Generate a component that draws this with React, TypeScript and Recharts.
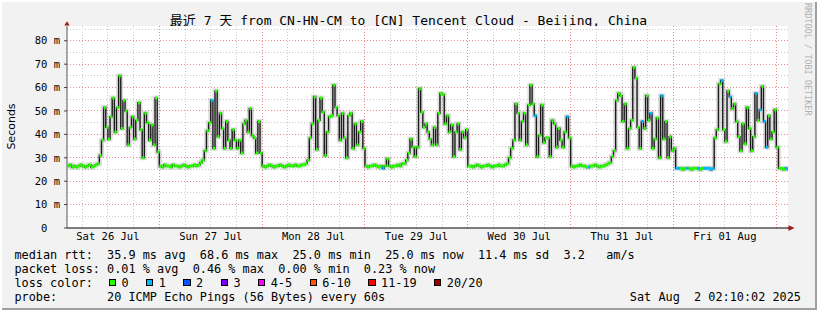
import React from "react";
import { ComposedChart, Line, XAxis, YAxis, CartesianGrid, ReferenceLine } from "recharts";

// median rtt (ms), one value per 30 minutes, grouped by day
const jul26 = [
  26.5, 27, 26, 26.5, 26, 26.5, 27, 26.5, 26, 26.5, 27, 26, 26.5, 27, 27.5,
  31, 37.5, 51.5, 43, 38, 47.5, 55.5, 41, 51.5, 65, 42.5, 54.5, 50, 35.5,
  43, 47.5, 38, 46, 53.5, 42, 30, 49, 45, 37.5, 44, 35.5, 55.5, 32.5,
];
const jul27 = [
  26.5, 26, 27, 26.5, 26.5, 26, 27, 26.5, 26.5, 26, 26.5, 27, 26.5, 26, 26.5, 26.5, 27, 26.5, 27, 28, 29,
  33, 41.5, 45, 54.5, 34, 58.5, 39, 49, 42.5, 34, 45.5, 37.5, 34, 42, 37.5, 34, 37.5, 32, 44.5, 46, 41,
  51, 39.5, 38.5, 32, 45.5, 32,
];
const jul28 = [
  26.5, 26, 26.5, 27, 26.5, 26, 26.5, 26.5, 27, 26.5, 26, 26.5, 27, 26.5, 26.5, 27, 26.5, 26.5, 27, 27, 27.5,
  29, 38.5, 44.5, 56, 33.5, 46, 55.5, 49.5, 31, 41, 47.5, 48, 61, 51.5, 48, 37.5, 49, 38.5, 30, 48, 49,
  34, 44.5, 35.5, 41, 45.5, 34,
];
const jul29 = [
  26.5, 26, 26.5, 26.5, 27, 26.5, 26, 26.5, 25.5, 26.5, 29.5, 26.5, 26, 26.5, 26.5, 27, 26.5, 27.5, 27.5,
  29, 32, 38, 34.5, 30.5, 34.5, 59.5, 49.5, 43, 44.5, 41, 38, 35.5, 43, 35.5, 49, 57.5, 57, 44.5, 48, 41,
  44, 30.5, 41, 44.5, 33.5, 41, 38.5, 42,
];
const jul30 = [
  26.5, 26.5, 26, 26.5, 27, 26.5, 26, 26.5, 26.5, 27, 26.5, 26, 26.5, 26.5, 27, 26.5, 26.5, 27, 27.5,
  30, 34, 37.5, 53, 49, 37.5, 45.5, 49, 35.5, 52.5, 61, 53, 48, 30.5, 39.5, 52.5, 36.5, 38.5, 38.5, 30.5,
  46, 44.5, 34.5, 42.5, 37.5, 34.5, 41, 47.5, 38.5,
];
const jul31 = [
  26.5, 26, 26.5, 26.5, 27, 26.5, 26.5, 26, 26, 26.5, 26.5, 27, 26.5, 26, 26.5, 26.5, 27, 27.5, 28,
  30.5, 33, 54.5, 57.5, 56.5, 45.5, 53, 34, 42.5, 46, 68.6, 64, 43, 34, 45.5, 42.5, 56.5, 46, 49, 34, 38,
  47, 30, 56.5, 38, 45.5, 30, 39, 33,
];
const aug01 = [
  34, 25.5, 25.5, 25.5, 25, 25.5, 25.5, 25.5, 25, 25.5, 25.5, 25.5, 25, 25.5, 25.5, 25.5, 25.5, 25, 25.5,
  38.5, 42, 61.5, 63, 42, 37, 58.5, 56, 51, 53, 45.5, 39, 33, 44.5, 36, 51.5, 42.5, 33, 39, 57.5, 46,
  50.5, 60.5, 45.5, 34.5, 48, 38, 41, 50.5,
];
const aug02 = [34.5, 25.5, 25.5, 25, 25.5, 25];

// hours since Sat 26 Jul 00:00
const dayStarts = [2.5, 24, 48, 72, 96, 120, 144, 168];
const dayValues = [jul26, jul27, jul28, jul29, jul30, jul31, aug01, aug02];

// samples where 1 of 20 pings was lost
const lossOne = [
  36, 76, 111.5, 119, 124, 136.5, 138.5, 141, 144.5, 145, 147, 149.5, 151, 151.5, 152, 152.5, 153,
  155, 157, 163, 164, 165, 165.5, 170, 170.5,
];

const dayTicks = [12, 36, 60, 84, 108, 132, 156];
const dayLabels = ["Sat 26 Jul", "Sun 27 Jul", "Mon 28 Jul", "Tue 29 Jul", "Wed 30 Jul", "Thu 31 Jul", "Fri 01 Aug"];
const yTicks = [0, 10, 20, 30, 40, 50, 60, 70, 80];
const yMinor = [5, 15, 25, 35, 45, 55, 65, 75, 85];
const xMajor = [24, 48, 72, 96, 120, 144, 168];
const xMinor = [6, 12, 18, 30, 36, 42, 54, 60, 66, 78, 84, 90, 102, 108, 114, 126, 132, 138, 150, 156, 162];

const rttStats = ["35.9 ms avg", "68.6 ms max", "25.0 ms min", "25.0 ms now", "11.4 ms sd", "3.2   am/s"];
const lossStats = ["0.01 % avg", "0.46 % max", "0.00 % min", "0.23 % now"];
const lossLegend = [
  { label: "0", color: "#26ff00" },
  { label: "1", color: "#00b8ff" },
  { label: "2", color: "#0059ff" },
  { label: "3", color: "#7e00ff" },
  { label: "4-5", color: "#ff00ff" },
  { label: "6-10", color: "#ff5500" },
  { label: "11-19", color: "#ff0000" },
  { label: "20/20", color: "#a10000" },
];

const data = dayValues.flatMap((vals, d) =>
  vals.map((v, i) => {
    const t = dayStarts[d] + i * 0.5;
    return { t, rtt: v, loss: lossOne.includes(t) ? 1 : 0 };
  })
);

const MONO = '"DejaVu Sans Mono", "Noto Sans CJK SC", monospace';

function renderLossDot(props: any) {
  const { cx, cy, payload, index } = props;
  if (cx == null || cy == null) return <g key={`d${index}`} />;
  return (
    <rect
      key={`d${index}`}
      x={cx}
      y={cy - 1.5}
      width={2.4}
      height={3}
      fill={lossLegend[payload.loss].color}
    />
  );
}

export default function App() {
  return (
    <div
      style={{
        position: "absolute",
        left: 0,
        top: 0,
        width: 817,
        height: 310,
        background: "#f2f2f2",
        boxShadow: "inset 2px 2px 0 #ffffff, inset -2px -2px 0 #a0a0a0",
        fontFamily: MONO,
        color: "#000",
      }}
    >
      <div
        style={{
          position: "absolute",
          left: 0,
          width: 817,
          top: 13,
          lineHeight: "16px",
          fontSize: 13,
          textAlign: "center",
          whiteSpace: "pre",
        }}
      >
        最近 7 天 from CN-HN-CM to [CN] Tencent Cloud - Beijing, China
      </div>

      <div style={{ position: "absolute", left: 0, top: 0 }}>
        <ComposedChart width={817} height={310} data={data} margin={{ top: 26, right: 29, bottom: 52, left: 7 }}>
          <CartesianGrid fill="#ffffff" horizontal={false} vertical={false} />
          {yMinor.map((v) => (
            <ReferenceLine key={`ym${v}`} y={v} stroke="#c8c8c8" strokeDasharray="1 2" shapeRendering="crispEdges" />
          ))}
          {xMinor.map((v) => (
            <ReferenceLine key={`xm${v}`} x={v} stroke="#c8c8c8" strokeDasharray="1 2" shapeRendering="crispEdges" />
          ))}
          {yTicks.slice(1).map((v) => (
            <ReferenceLine key={`yM${v}`} y={v} stroke="#ee8a8a" strokeDasharray="1 2" shapeRendering="crispEdges" />
          ))}
          {xMajor.map((v) => (
            <ReferenceLine key={`xM${v}`} x={v} stroke="#ee8a8a" strokeDasharray="1 2" shapeRendering="crispEdges" />
          ))}
          <XAxis
            dataKey="t"
            type="number"
            domain={[2.45, 170.73]}
            ticks={dayTicks}
            interval={0}
            allowDataOverflow
            tickFormatter={(v: number) => dayLabels[dayTicks.indexOf(v)]}
            axisLine={{ stroke: "#000" }}
            tickLine={false}
            tickSize={0}
            tickMargin={5}
            height={30}
            tick={{ fontSize: 10.5, fontFamily: MONO, fill: "#000" }}
          />
          <YAxis
            type="number"
            domain={[0, 86.3]}
            ticks={yTicks}
            interval={0}
            allowDataOverflow
            width={60}
            tickFormatter={(v: number) => (v === 0 ? "0\u00a0\u00a0" : `${v} m`)}
            axisLine={{ stroke: "#555" }}
            tickLine={{ stroke: "#444" }}
            tickSize={3}
            tickMargin={4}
            tick={{ fontSize: 10.5, fontFamily: MONO, fill: "#000" }}
          />
          <Line
            dataKey="rtt"
            type="stepAfter"
            stroke="#000"
            strokeOpacity={0.13}
            strokeWidth={5}
            dot={false}
            activeDot={false}
            isAnimationActive={false}
          />
          <Line
            dataKey="rtt"
            type="stepAfter"
            stroke="#1a1a1a"
            strokeWidth={1.4}
            dot={false}
            activeDot={false}
            isAnimationActive={false}
          />
          <Line
            dataKey="rtt"
            stroke="none"
            dot={renderLossDot}
            activeDot={false}
            isAnimationActive={false}
          />
        </ComposedChart>
      </div>

      <svg width={817} height={310} style={{ position: "absolute", left: 0, top: 0, pointerEvents: "none" }}>
        <polygon points="67,21.3 64.3,25.5 69.7,25.5" fill="#a01c1c" />
        <line x1={787.7} y1={228} x2={789} y2={228} stroke="#000" />
        <polygon points="788.5,225.2 794.6,228.1 788.5,231" fill="#a01c1c" />
        <text
          transform="translate(15,126.5) rotate(-90)"
          textAnchor="middle"
          fontFamily='"DejaVu Sans", sans-serif'
          fontSize={11}
          fill="#000"
        >
          Seconds
        </text>
        <text transform="translate(805,3) rotate(90)" fontFamily={MONO} fontSize={8.5} fill="#b0b0b0">
          RRDTOOL / TOBI OETIKER
        </text>
      </svg>

      <div
        style={{
          position: "absolute",
          left: 14.4,
          top: 247.5,
          fontSize: 11.85,
          lineHeight: "14px",
          whiteSpace: "pre",
        }}
      >
        <div>{"median rtt:  " + rttStats.join("  ")}</div>
        <div>{"packet loss: " + lossStats.join("  ")}</div>
        <div style={{ display: "flex", alignItems: "center", height: 14 }}>
          <span>{"loss color:  "}</span>
          {lossLegend.map((l) => (
            <span key={l.label} style={{ display: "flex", alignItems: "center" }}>
              <span
                style={{
                  display: "inline-block",
                  marginLeft: 1.5,
                  width: 7.3,
                  height: 7.3,
                  boxSizing: "border-box",
                  border: "1px solid #000",
                  background: l.color,
                }}
              />
              <span style={{ marginLeft: 5.5, marginRight: 15.9 }}>{l.label}</span>
            </span>
          ))}
        </div>
        <div>{"probe:       20 ICMP Echo Pings (56 Bytes) every 60s"}</div>
      </div>
      <div
        style={{
          position: "absolute",
          right: 16,
          top: 289.5,
          fontSize: 11.85,
          lineHeight: "14px",
          whiteSpace: "pre",
        }}
      >
        Sat Aug  2 02:10:02 2025
      </div>
    </div>
  );
}
